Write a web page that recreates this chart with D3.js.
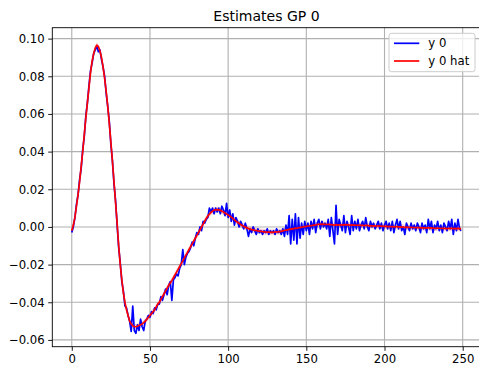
<!DOCTYPE html>
<html>
<head>
<meta charset="utf-8">
<script src="https://cdn.jsdelivr.net/npm/d3@7"></script>
<style>
  body { margin: 0; background: #fff; }
  svg text { font-family: "DejaVu Sans", sans-serif; }
</style>
</head>
<body>
<svg id="chart" width="479" height="371"></svg>
<script>
// values (one per step, steps 0..249)
const yObs = [
  -0.003, 0.000, 0.005, 0.012, 0.017, 0.025, 0.031, 0.041, 0.048, 0.059,
  0.066, 0.075, 0.083, 0.087, 0.092, 0.094, 0.096, 0.093, 0.094, 0.089,
  0.085, 0.080, 0.071, 0.064, 0.056, 0.044, 0.035, 0.023, 0.014, 0.001,
  -0.011, -0.019, -0.029, -0.034, -0.042, -0.043, -0.047, -0.050, -0.0555, -0.042,
  -0.055, -0.0565, -0.052, -0.055, -0.049, -0.053, -0.055, -0.050, -0.049, -0.047,
  -0.048, -0.045, -0.046, -0.043, -0.044, -0.041, -0.041, -0.037, -0.039, -0.036,
  -0.033, -0.036, -0.031, -0.029, -0.039, -0.028, -0.027, -0.025, -0.026, -0.022,
  -0.020, -0.012, -0.020, -0.016, -0.014, -0.013, -0.011, -0.008, -0.010, -0.006,
  -0.003, -0.004, 0.000, -0.002, 0.003, 0.002, 0.004, 0.005, 0.010, 0.008,
  0.010, 0.007, 0.010, 0.008, 0.010, 0.007, 0.011, 0.009, 0.006, 0.0125,
  0.005, 0.009, 0.003, 0.007, 0.001, 0.005, 0.003, 0.000, 0.003, 0.001,
  -0.001, 0.002, -0.001, -0.005, -0.001, -0.003, 0.000, -0.002, -0.004, -0.001,
  -0.003, -0.002, -0.004, -0.002, -0.003, -0.001, -0.004, -0.002, -0.003, -0.002,
  -0.004, -0.001, -0.003, -0.002, -0.004, -0.001, -0.005, 0.001, -0.004, 0.006,
  -0.009, 0.004, -0.007, 0.007, -0.009, 0.005, -0.006, 0.002, -0.004, 0.003,
  -0.002, 0.002, -0.004, 0.003, -0.001, 0.004, -0.003, 0.002, 0.004, -0.001,
  0.003, 0.000, 0.002, -0.001, 0.004, -0.005, 0.005, -0.002, -0.009, 0.0115,
  -0.004, 0.004, 0.001, -0.002, 0.006, -0.003, 0.003, 0.000, -0.004, 0.006,
  -0.002, 0.003, -0.001, 0.004, -0.002, 0.001, 0.003, -0.001, 0.005, 0.000,
  -0.002, 0.003, 0.000, 0.002, -0.001, 0.001, 0.003, -0.001, 0.002, -0.002,
  0.001, 0.003, -0.001, 0.002, -0.002, 0.003, -0.003, 0.001, 0.004, -0.001,
  0.003, -0.002, 0.000, -0.004, 0.002, 0.000, -0.002, 0.002, -0.001, 0.001,
  -0.002, 0.002, 0.000, -0.003, 0.002, -0.001, 0.001, -0.003, 0.004, -0.001,
  0.003, -0.003, 0.001, -0.001, 0.003, -0.002, 0.001, -0.003, 0.002, 0.000,
  -0.002, 0.003, -0.001, 0.004, -0.004, 0.002, -0.002, 0.004, -0.001, -0.002
];

const yHat = [
  -0.002, 0.001, 0.005, 0.011, 0.017, 0.024, 0.032, 0.040, 0.049, 0.058,
  0.066, 0.074, 0.082, 0.088, 0.092, 0.095, 0.0965, 0.0958, 0.0935, 0.090,
  0.085, 0.079, 0.072, 0.064, 0.055, 0.045, 0.035, 0.024, 0.013, 0.002,
  -0.010, -0.020, -0.028, -0.035, -0.040, -0.044, -0.047, -0.050, -0.0515, -0.0525,
  -0.053, -0.053, -0.0528, -0.0522, -0.052, -0.0515, -0.0508, -0.050, -0.049, -0.048,
  -0.047, -0.046, -0.045, -0.044, -0.0425, -0.041, -0.040, -0.0385, -0.037, -0.0355,
  -0.034, -0.0325, -0.031, -0.0298, -0.0285, -0.027, -0.0255, -0.024, -0.0225, -0.021,
  -0.0195, -0.018, -0.0165, -0.015, -0.0135, -0.012, -0.0105, -0.009, -0.0075, -0.006,
  -0.0045, -0.003, -0.0015, 0.0000, 0.0015, 0.003, 0.0045, 0.0058, 0.0068, 0.0077,
  0.0084, 0.0089, 0.0091, 0.0092, 0.0091, 0.0088, 0.0084, 0.0079, 0.0074, 0.0069,
  0.0064, 0.0058, 0.0052, 0.0045, 0.0038, 0.0031, 0.0025, 0.0019, 0.0013, 0.0008,
  0.0003, -0.0001, -0.0005, -0.0009, -0.0012, -0.0014, -0.0016, -0.0018, -0.0019, -0.0021,
  -0.0022, -0.0024, -0.0025, -0.0026, -0.0027, -0.0028, -0.0028, -0.0029, -0.0028, -0.0029,
  -0.0027, -0.0026, -0.0027, -0.0025, -0.0024, -0.0021, -0.0019, -0.0017, -0.0016, -0.0012,
  -0.0013, -0.0009, -0.0010, -0.0006, -0.0008, -0.0004, -0.0004, -0.0001, 0.0000, 0.0002,
  0.0003, 0.0005, 0.0005, 0.0007, 0.0008, 0.0010, 0.0011, 0.0013, 0.0014, 0.0014,
  0.0015, 0.0014, 0.0014, 0.0013, 0.0014, 0.0012, 0.0013, 0.0011, 0.0009, 0.0012,
  0.0010, 0.0011, 0.0011, 0.0010, 0.0012, 0.0011, 0.0012, 0.0011, 0.0009, 0.0011,
  0.0010, 0.0010, 0.0009, 0.0010, 0.0008, 0.0008, 0.0009, 0.0007, 0.0009, 0.0008,
  0.0006, 0.0007, 0.0006, 0.0006, 0.0004, 0.0005, 0.0006, 0.0004, 0.0005, 0.0003,
  0.0003, 0.0004, 0.0002, 0.0003, 0.0001, 0.0002, 0.0000, 0.0001, 0.0002, 0.0000,
  0.0001, -0.0001, -0.0001, -0.0003, -0.0001, -0.0002, -0.0003, -0.0002, -0.0003, -0.0003,
  -0.0004, -0.0003, -0.0004, -0.0005, -0.0004, -0.0005, -0.0005, -0.0006, -0.0004, -0.0005,
  -0.0005, -0.0007, -0.0006, -0.0007, -0.0006, -0.0007, -0.0007, -0.0008, -0.0007, -0.0008,
  -0.0009, -0.0008, -0.0008, -0.0007, -0.0009, -0.0008, -0.0009, -0.0008, -0.0009, -0.0010
];

const hatSpread = 0.0015;   // half width of the faint band round y 0 hat
const xTicks = [0, 50, 100, 150, 200, 250];
const yTicks = [-0.06, -0.04, -0.02, 0.00, 0.02, 0.04, 0.06, 0.08, 0.10];
const seriesNames = ["y 0", "y 0 hat"];
const seriesColors = ["#0000ff", "#ff0000"];
const title = "Estimates GP 0";

const plotLeft = 52.3, plotRight = 480.6, plotTop = 27.7, plotBottom = 346.7;
const fontSize = 11.7;

const svg = d3.select("#chart");

const x = d3.scaleLinear().domain([-12.45, 261.45]).range([plotLeft, plotRight]);
const y = d3.scaleLinear().domain([-0.0636, 0.1058]).range([plotBottom, plotTop]);

// grid
svg.append("g")
  .selectAll("line")
  .data(xTicks)
  .enter().append("line")
  .attr("x1", d => x(d)).attr("x2", d => x(d))
  .attr("y1", plotTop).attr("y2", plotBottom)
  .attr("stroke", "#b0b0b0").attr("stroke-width", 1.1);

svg.append("g")
  .selectAll("line")
  .data(yTicks)
  .enter().append("line")
  .attr("x1", plotLeft).attr("x2", plotRight)
  .attr("y1", d => y(d)).attr("y2", d => y(d))
  .attr("stroke", "#b0b0b0").attr("stroke-width", 1.1);

// band + lines
const band = d3.area()
  .x((d, i) => x(i))
  .y0(d => y(d - hatSpread))
  .y1(d => y(d + hatSpread));

svg.append("path")
  .datum(yHat)
  .attr("d", band)
  .attr("fill", "#ff0000")
  .attr("fill-opacity", 0.18);

const line = d3.line().x((d, i) => x(i)).y(d => y(d));

svg.append("path")
  .datum(yObs)
  .attr("d", line)
  .attr("fill", "none")
  .attr("stroke", seriesColors[0])
  .attr("stroke-width", 1.7)
  .attr("stroke-linejoin", "round");

svg.append("path")
  .datum(yHat)
  .attr("d", line)
  .attr("fill", "none")
  .attr("stroke", seriesColors[1])
  .attr("stroke-width", 1.7)
  .attr("stroke-linejoin", "round");

// axes
const xAxis = svg.append("g")
  .attr("transform", "translate(0," + plotBottom + ")")
  .call(d3.axisBottom(x).tickValues(xTicks).tickFormat(d3.format("d")).tickSize(4.1).tickPadding(3.5));

const yAxis = svg.append("g")
  .attr("transform", "translate(" + plotLeft + ",0)")
  .call(d3.axisLeft(y).tickValues(yTicks).tickFormat(d3.format(".2f")).tickSize(4.1).tickPadding(3.5));

[xAxis, yAxis].forEach(a => {
  a.select(".domain").remove();
  a.selectAll("line").attr("stroke", "#000").attr("stroke-width", 0.9);
  a.selectAll("text").attr("font-size", fontSize).attr("fill", "#000")
    .style("font-family", "'DejaVu Sans', sans-serif");
});

// spines
svg.append("rect")
  .attr("x", plotLeft).attr("y", plotTop)
  .attr("width", plotRight - plotLeft).attr("height", plotBottom - plotTop)
  .attr("fill", "none").attr("stroke", "#000").attr("stroke-width", 0.9);

// title
svg.append("text")
  .attr("x", (plotLeft + plotRight) / 2).attr("y", 21)
  .attr("text-anchor", "middle")
  .attr("font-size", 14)
  .text(title);

// legend
const legend = svg.append("g").attr("transform", "translate(389,33.3)");
legend.append("rect")
  .attr("width", 86).attr("height", 38.4)
  .attr("rx", 2.5)
  .attr("fill", "#fff").attr("fill-opacity", 0.8)
  .attr("stroke", "#cccccc").attr("stroke-width", 1);

seriesNames.forEach((name, i) => {
  const ly = 10 + i * 17.7;
  legend.append("line")
    .attr("x1", 5).attr("x2", 30.3)
    .attr("y1", ly).attr("y2", ly)
    .attr("stroke", seriesColors[i]).attr("stroke-width", 1.7);
  legend.append("text")
    .attr("x", 39.3).attr("y", ly + 4.2)
    .attr("font-size", fontSize)
    .text(name);
});
</script>
</body>
</html>
